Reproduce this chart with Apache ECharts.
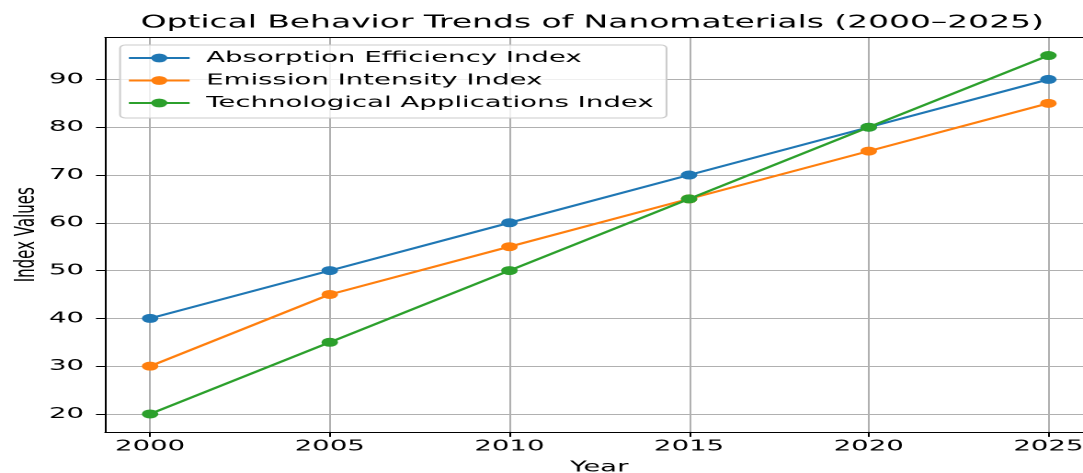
<!DOCTYPE html>
<html>
<head>
<meta charset="utf-8">
<script src="https://cdn.jsdelivr.net/npm/echarts@6/dist/echarts.min.js"></script>
<style>
html, body { margin: 0; padding: 0; background: #ffffff; overflow: hidden; }
#wrap { width: 1083px; height: 473px; overflow: hidden; position: relative; }
#chart { width: 600px; height: 473px; transform: scaleX(1.8387); transform-origin: 0 0; }
</style>
</head>
<body>
<div id="wrap"><div id="chart"></div></div>
<script>
// ---- data ----
const years = [2000, 2005, 2010, 2015, 2020, 2025];
const absorption = [40, 50, 60, 70, 80, 90];
const emission = [30, 45, 55, 65, 75, 85];
const technological = [20, 35, 50, 65, 80, 95];
const seriesNames = ['Absorption Efficiency Index', 'Emission Intensity Index', 'Technological Applications Index'];
const xTicks = [2000, 2005, 2010, 2015, 2020, 2025];
const yTicks = [20, 30, 40, 50, 60, 70, 80, 90];
const titleText = 'Optical Behavior Trends of Nanomaterials (2000\u20132025)';

const colors = ['#1f77b4', '#ff7f0e', '#2ca02c'];
const FONT = 'DejaVu Sans';
const FS = 15;

const chart = echarts.init(document.getElementById('chart'), null, { renderer: 'canvas', devicePixelRatio: 2 });

function pairs(vals) { return years.map((y, i) => [y, vals[i]]); }
const allVals = [absorption, emission, technological];

const option = {
  animation: false,
  backgroundColor: '#ffffff',
  title: {
    text: titleText,
    left: 71.5,
    top: 9,
    textStyle: { fontFamily: FONT, fontSize: 17.9, fontWeight: 'normal', color: '#000' }
  },
  legend: {
    orient: 'vertical',
    left: 65.3,
    top: 45,
    padding: [5.5, 7, 7.5, 3.8],
    itemWidth: 33,
    itemHeight: 11,
    itemGap: 7.5,
    backgroundColor: 'rgba(255,255,255,0.8)',
    borderColor: '#cccccc',
    borderWidth: 1,
    borderRadius: 3,
    textStyle: { fontFamily: FONT, fontSize: FS, color: '#000', lineHeight: 15, padding: [0, 0, 0, 4] },
    data: seriesNames
  },
  grid: {
    left: 57.2,
    right: 5.4,
    top: 37.6,
    bottom: 41.1,
    outerBoundsMode: 'none',
    containLabel: false,
    show: false
  },
  xAxis: [{
    type: 'value',
    min: 1998.75,
    max: 2026.25,
    splitNumber: 5,
    name: 'Year',
    nameLocation: 'middle',
    nameGap: 28,
    nameMoveOverlap: false,
    nameTextStyle: { fontFamily: FONT, fontSize: FS, color: '#000' },
    axisLine: { show: true, lineStyle: { color: '#000', width: 1 } },
    axisTick: { show: true, length: 5, lineStyle: { color: '#000', width: 1 }, customValues: xTicks },
    axisLabel: { fontFamily: FONT, fontSize: FS, color: '#000', margin: 7, customValues: xTicks, formatter: v => String(v) },
    splitLine: { show: true, lineStyle: { color: '#b0b0b0', width: 1 } }
  }, {
    type: 'value',
    position: 'top',
    min: 1998.75,
    max: 2026.25,
    axisLine: { show: true, onZero: false, lineStyle: { color: '#000', width: 1 } },
    axisTick: { show: false },
    axisLabel: { show: false },
    splitLine: { show: false }
  }],
  yAxis: {
    type: 'value',
    min: 16.25,
    max: 98.75,
    splitNumber: 8,
    name: 'Index Values',
    nameLocation: 'middle',
    nameGap: 35,
    nameMoveOverlap: false,
    nameTextStyle: { fontFamily: FONT, fontSize: FS, color: '#000' },
    axisLine: { show: true, lineStyle: { color: '#000', width: 1 } },
    axisTick: { show: true, length: 5, lineStyle: { color: '#000', width: 1 }, customValues: yTicks },
    axisLabel: { fontFamily: FONT, fontSize: FS, color: '#000', margin: 11.5, customValues: yTicks, formatter: v => String(v) },
    splitLine: { show: true, lineStyle: { color: '#b0b0b0', width: 1 } }
  },
  series: seriesNames.map((name, i) => ({
    name: name,
    type: 'line',
    data: pairs(allVals[i]),
    symbol: 'circle',
    symbolSize: 9,
    showSymbol: true,
    color: colors[i],
    lineStyle: { color: colors[i], width: 2 },
    itemStyle: { color: colors[i] },
    z: 2 + i
  }))
};

chart.setOption(option);
</script>
</body>
</html>
